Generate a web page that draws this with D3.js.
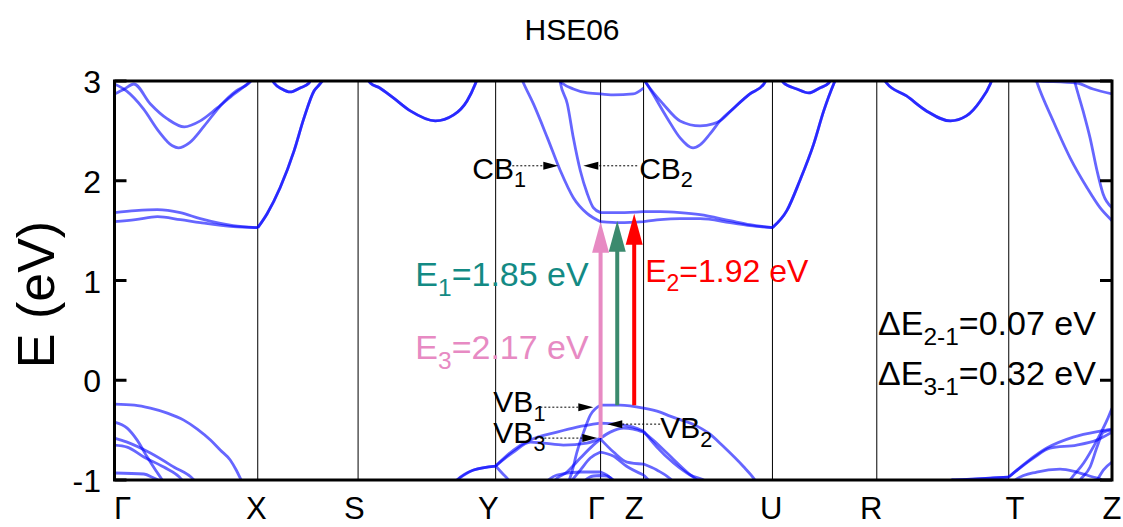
<!DOCTYPE html>
<html>
<head>
<meta charset="utf-8">
<script src="https://cdn.jsdelivr.net/npm/d3@7/dist/d3.min.js"></script>
<style>
  body { margin: 0; background: #fff; }
  text { font-family: "Liberation Sans", Arial, Helvetica, sans-serif; }
</style>
</head>
<body>
<svg id="chart" width="1123" height="527"></svg>
<script>
// ---- k-path (normalised path length) ----
const kLines = [0, 0.1436, 0.2442, 0.3821, 0.4873, 0.5304, 0.6596, 0.7642, 0.8965, 1.0];
const kLabels = ["Γ", "X", "S", "Y", "Γ", "Z", "U", "R", "T", "Z"];
const kLabelPos = [0.008, 0.1423, 0.2405, 0.3747, 0.483, 0.521, 0.6583, 0.7585, 0.9028, 1.0];
const eTicks = [-1, 0, 1, 2, 3];

// ---- bands: [k, E(eV)], null breaks a band where it leaves the window ----
const cb1 = [[0,1.59],[0.021,1.61],[0.043,1.64],[0.066,1.61],[0.086,1.58],[0.119,1.54],[0.1436,1.53],
  [0.153,1.67],[0.166,1.93],[0.180,2.30],[0.190,2.63],[0.200,2.90],[0.206,2.97],[0.212,3.05],[0.221,3.15],null,
  [0.405,3.10],[0.410,2.98],[0.420,2.77],[0.434,2.43],[0.447,2.10],[0.460,1.83],[0.474,1.67],[0.4873,1.59],
  [0.507,1.58],[0.5304,1.59],
  [0.547,1.61],[0.567,1.62],[0.587,1.62],[0.617,1.58],[0.637,1.55],[0.6596,1.53],
  [0.674,1.70],[0.687,2.00],[0.701,2.37],[0.711,2.70],[0.721,2.97],[0.727,3.10],null,
  [0.921,3.10],[0.925,2.98],[0.941,2.60],[0.958,2.23],[0.975,1.93],[0.988,1.73],[1.0,1.60]];
const cb2 = [[0,1.68],[0.021,1.70],[0.043,1.71],[0.066,1.68],[0.086,1.62],[0.119,1.55],[0.1436,1.53],
  [0.153,1.67],[0.166,1.93],[0.180,2.30],[0.190,2.63],[0.200,2.90],[0.206,2.97],[0.212,3.05],[0.221,3.15],null,
  [0.445,3.10],[0.447,2.98],[0.454,2.77],[0.460,2.43],[0.467,2.10],[0.474,1.87],[0.480,1.73],[0.4873,1.68],
  [0.507,1.68],[0.5304,1.69],
  [0.547,1.69],[0.567,1.68],[0.587,1.66],[0.617,1.60],[0.637,1.56],[0.6596,1.53],
  [0.674,1.70],[0.687,2.00],[0.701,2.37],[0.711,2.70],[0.721,2.97],[0.727,3.10],null,
  [0.960,3.10],[0.963,2.98],[0.971,2.70],[0.978,2.43],[0.985,2.10],[0.991,1.87],[1.0,1.73]];
const cb3 = [[0,2.97],[0.012,2.90],[0.029,2.72],[0.044,2.50],[0.058,2.35],[0.064,2.33],[0.075,2.38],
  [0.090,2.55],[0.106,2.75],[0.122,2.90],[0.135,2.98],[0.141,3.05],null,
  [0.5304,3.02],[0.5337,2.97],[0.554,2.63],[0.567,2.43],[0.580,2.33],[0.587,2.36],[0.597,2.47],
  [0.607,2.60],[0.621,2.73],[0.637,2.87],[0.651,2.97],[0.655,3.05]];
const cb4 = [[0,2.87],[0.010,2.92],[0.0194,2.97],[0.036,2.77],[0.053,2.62],[0.070,2.54],[0.086,2.60],
  [0.103,2.73],[0.120,2.87],[0.133,2.97],[0.141,3.05],null,
  [0.442,3.05],[0.4486,2.98],[0.460,2.92],[0.474,2.88],[0.4873,2.87],[0.500,2.86],[0.520,2.87],[0.5304,2.93]];
const cb5 = [[0.5304,3.02],[0.5337,2.97],[0.550,2.77],[0.567,2.60],[0.587,2.55],[0.600,2.57],[0.607,2.60],
  [0.621,2.73],[0.637,2.87],[0.651,2.97],[0.655,3.05]];
const cb6 = [[0.156,3.05],[0.160,2.98],[0.168,2.92],[0.176,2.89],[0.186,2.93],[0.195,2.98],[0.198,3.05],null,
  [0.2515,3.05],[0.2565,2.98],[0.266,2.93],[0.2796,2.83],[0.2966,2.70],[0.3216,2.60],[0.340,2.66],
  [0.3534,2.80],[0.3617,2.97],[0.3647,3.05],null,
  [0.6663,3.05],[0.671,2.98],[0.684,2.92],[0.696,2.88],[0.707,2.93],[0.716,2.98],[0.720,3.05],null,
  [0.770,3.05],[0.774,2.98],[0.794,2.85],[0.814,2.70],[0.838,2.60],[0.854,2.65],[0.868,2.80],
  [0.878,2.97],[0.881,3.05]];
const cb7 = cb6.map(p => p && [p[0], p[1]]);
const cb8 = [[0.8965,3.02],[0.928,3.00],[0.9646,2.98],[0.981,2.92],[1.0,2.87]];

const vb1 = [[0,-0.24],[0.020,-0.25],[0.036,-0.28],[0.053,-0.33],[0.0694,-0.40],[0.083,-0.49],[0.0962,-0.60],
  [0.106,-0.70],[0.116,-0.80],[0.122,-0.90],[0.127,-1.0],[0.131,-1.08],null,
  [0.452,-1.10],[0.4552,-1.02],[0.4586,-0.92],[0.4636,-0.72],[0.4703,-0.52],[0.477,-0.35],[0.4873,-0.25],
  [0.507,-0.25],[0.5304,-0.28],
  [0.547,-0.32],[0.557,-0.36],[0.584,-0.46],[0.597,-0.54],[0.610,-0.66],[0.630,-0.86],[0.642,-1.0],[0.647,-1.08],null,
  [0.953,-1.08],[0.958,-1.0],[0.9716,-0.83],[0.985,-0.60],[0.995,-0.40],[1.0,-0.28]];
const vb2 = [[0,-0.42],[0.0127,-0.48],[0.0227,-0.60],[0.0328,-0.77],[0.0411,-0.90],[0.0478,-1.0],[0.051,-1.06],null,
  [0.3367,-1.08],[0.3434,-1.0],[0.360,-0.90],[0.3821,-0.86],
  [0.400,-0.70],[0.4168,-0.60],[0.4436,-0.52],[0.4636,-0.47],[0.4873,-0.43],
  [0.5037,-0.44],[0.520,-0.47],[0.5304,-0.51],
  [0.5437,-0.67],[0.5604,-0.83],[0.577,-0.95],[0.594,-1.02],[0.599,-1.08],null,
  [0.8965,-0.97],[0.9145,-0.82],[0.9346,-0.68],[0.9612,-0.57],[0.988,-0.51],[1.0,-0.49]];
const vb3 = [[0,-0.58],[0.0127,-0.62],[0.036,-0.73],[0.0594,-0.87],[0.0795,-1.0],[0.084,-1.06],null,
  [0.3821,-0.86],[0.400,-0.72],[0.4168,-0.62],[0.430,-0.63],[0.450,-0.65],[0.4736,-0.63],[0.4873,-0.58],
  [0.497,-0.52],[0.5103,-0.48],[0.520,-0.49],[0.5304,-0.52],
  [0.540,-0.60],[0.5538,-0.73],[0.5739,-0.92],[0.5855,-1.02],[0.590,-1.08],null,
  [0.8965,-0.97],[0.9212,-0.78],[0.9379,-0.68],[0.9646,-0.65],[0.9846,-0.60],[1.0,-0.52]];
const vb4 = [[0,-0.65],[0.0127,-0.67],[0.0294,-0.77],[0.0494,-0.87],[0.0678,-1.0],[0.072,-1.06],null,
  [0.3317,-1.10],[0.3434,-1.0],[0.360,-0.90],[0.3821,-0.86],
  [0.3885,-0.93],[0.395,-1.0],[0.3988,-1.06],null,
  [0.9639,-1.06],[0.968,-1.0],[0.978,-0.87],[0.985,-0.67],[0.9913,-0.52],[1.0,-0.50]];
const vb5 = [[0,-0.93],[0.0294,-0.94],[0.0394,-0.98],[0.0494,-1.03],null,
  [0.4369,-1.08],[0.4402,-1.02],[0.4536,-0.92],[0.467,-0.78],[0.480,-0.65],[0.4873,-0.59],
  [0.5003,-0.72],[0.5137,-0.82],[0.5304,-0.84],
  [0.5437,-0.90],[0.5604,-1.02],[0.565,-1.08],null,
  [0.830,-1.06],[0.840,-1.0],[0.8644,-0.99],[0.881,-0.98],[0.8965,-0.97]];
const vb6 = [[0.450,-1.08],[0.457,-1.02],[0.467,-0.90],[0.477,-0.78],[0.4873,-0.72],
  [0.500,-0.76],[0.513,-0.86],[0.5304,-0.95],[0.5371,-1.02],[0.542,-1.08],null,
  [0.830,-1.06],[0.840,-1.0],[0.8644,-0.99],[0.881,-0.98],[0.8965,-0.97]];
const vb7 = [[0.4269,-1.08],[0.435,-1.0],[0.4436,-0.95],[0.467,-0.92],[0.4873,-0.92],[0.5003,-1.02],[0.503,-1.08],null,
  [0.900,-1.03],[0.9045,-0.99],[0.9245,-0.92],[0.9479,-0.89],[0.9646,-0.92],[0.981,-0.97],[0.988,-0.99],[0.992,-1.03]];
const vb8 = [[0.467,-1.06],[0.4703,-1.02],[0.480,-0.96],[0.4873,-0.955],[0.4937,-0.96],[0.502,-1.02],[0.505,-1.06],null,
  [0.980,-1.06],[0.985,-1.0],[0.9913,-0.90],[1.0,-0.82]];

// ---- optical transitions (from VB to CB, eV) ----
const transitionNames = ["E3", "E1", "E2"];
const transitionK = [0.4873, 0.504, 0.521];
const transitionFrom = [-0.58, -0.25, -0.25];
const transitionTo = [1.59, 1.60, 1.67];
const transitionColors = ["#e78ac3", "#3b8a6e", "#ff0000"];
const transitionTextColors = ["#e78ac3", "#138a84", "#ff0000"];
const gapDeltas = [["2-1", 0.07], ["3-1", 0.32]];

// ---- layout ----
const svg = d3.select("#chart");
const plot = { left: 114.5, right: 1112, top: 81, bottom: 480 };
const x = d3.scaleLinear().domain([0, 1]).range([plot.left, plot.right]);
const y = d3.scaleLinear().domain([-1, 3]).range([plot.bottom, plot.top]);

svg.append("defs").append("clipPath").attr("id", "clip")
  .append("rect").attr("x", plot.left).attr("y", plot.top)
  .attr("width", plot.right - plot.left).attr("height", plot.bottom - plot.top);

// title
svg.append("text").attr("x", 572).attr("y", 40).attr("text-anchor", "middle")
  .attr("font-size", 30).text("HSE06");

// y label
svg.append("text").attr("transform", `translate(54,${(plot.top + plot.bottom) / 2 + 14}) rotate(-90)`)
  .attr("text-anchor", "middle").attr("font-size", 52).text("E (eV)");

// high-symmetry lines
svg.append("g").selectAll("line").data(kLines.slice(1, -1)).join("line")
  .attr("x1", d => x(d)).attr("x2", d => x(d))
  .attr("y1", plot.top).attr("y2", plot.bottom)
  .attr("stroke", "#000").attr("stroke-width", 1);

// bands
const segs = d3.pairs(kLines);
const line = d3.line().defined(d => d !== null).x(d => x(d[0])).y(d => y(d[1])).curve(d3.curveMonotoneX);
function bandPath(band) {
  return segs.map(([a, b]) => {
    const pts = band.filter(p => p === null || (p[0] >= a - 1e-9 && p[0] <= b + 1e-9));
    return pts.filter(p => p).length > 1 ? line(pts) : "";
  }).join("");
}
const allBands = [cb1, cb2, cb3, cb4, cb5, cb6, cb7, cb8, vb1, vb2, vb3, vb4, vb5, vb6, vb7, vb8];
svg.append("g").attr("clip-path", "url(#clip)").selectAll("path").data(allBands).join("path")
  .attr("d", bandPath).attr("fill", "none")
  .attr("stroke", "#0000ff").attr("stroke-opacity", 0.6).attr("stroke-width", 2.8);

// transition arrows
const tg = svg.append("g");
transitionK.forEach((k, i) => {
  const xs = x(k), y0 = y(transitionFrom[i]), y1 = y(transitionTo[i]);
  const headL = 31, headW = 8.5;
  tg.append("line").attr("x1", xs).attr("x2", xs).attr("y1", y0).attr("y2", y1 + headL - 2)
    .attr("stroke", transitionColors[i]).attr("stroke-width", 4);
  tg.append("path").attr("d", `M${xs},${y1}L${xs - headW},${y1 + headL}L${xs + headW},${y1 + headL}Z`)
    .attr("fill", transitionColors[i]);
});

// text helper with subscript
function subText(g, xp, yp, main, sub, rest, size, color) {
  const t = g.append("text").attr("x", xp).attr("y", yp).attr("font-size", size).attr("fill", color);
  t.append("tspan").text(main);
  t.append("tspan").attr("font-size", size * 0.72).attr("dy", size * 0.28).text(sub);
  t.append("tspan").attr("dy", -size * 0.28).text(rest);
  return t;
}
const ann = svg.append("g");
const energy = (i) => (transitionTo[i] - transitionFrom[i]).toFixed(2);
subText(ann, x(0.3016), y(0.94), "E", "1", `=${energy(1)} eV`, 34, transitionTextColors[1]);
subText(ann, x(0.532), y(0.98), "E", "2", `=${energy(2)} eV`, 32, transitionTextColors[2]);
subText(ann, x(0.3016), y(0.21), "E", "3", `=${energy(0)} eV`, 34, transitionTextColors[0]);
subText(ann, x(0.7655), y(0.45), "ΔE", gapDeltas[0][0], `=${gapDeltas[0][1].toFixed(2)} eV`, 34, "#000");
subText(ann, x(0.7655), y(-0.05), "ΔE", gapDeltas[1][0], `=${gapDeltas[1][1].toFixed(2)} eV`, 34, "#000");

// band-edge pointers
const pointers = [
  { label: "CB", sub: "1", tx: 0.3587, ty: 2.02, from: 0.3988, to: 0.4449, e: 2.15 },
  { label: "CB", sub: "2", tx: 0.526, ty: 2.02, from: 0.524, to: 0.470, e: 2.15 },
  { label: "VB", sub: "1", tx: 0.3798, ty: -0.32, from: 0.4269, to: 0.480, e: -0.27 },
  { label: "VB", sub: "3", tx: 0.3798, ty: -0.63, from: 0.4269, to: 0.484, e: -0.58 },
  { label: "VB", sub: "2", tx: 0.547, ty: -0.58, from: 0.547, to: 0.494, e: -0.44 }
];
pointers.forEach(p => {
  subText(ann, x(p.tx), y(p.ty), p.label, p.sub, "", 30, "#000");
  const x0 = x(p.from), x1 = x(p.to), yy = y(p.e);
  const dir = Math.sign(x1 - x0), hl = 15, hw = 4;
  ann.append("line").attr("x1", x0).attr("x2", x1 - dir * hl).attr("y1", yy).attr("y2", yy)
    .attr("stroke", "#000").attr("stroke-width", 1).attr("stroke-dasharray", "2,2");
  ann.append("path").attr("d", `M${x1},${yy}L${x1 - dir * hl},${yy - hw}L${x1 - dir * hl},${yy + hw}Z`)
    .attr("fill", "#000");
});

// frame
svg.append("rect").attr("x", plot.left).attr("y", plot.top)
  .attr("width", plot.right - plot.left).attr("height", plot.bottom - plot.top)
  .attr("fill", "none").attr("stroke", "#000").attr("stroke-width", 3);

// y ticks (inward on both sides) and labels
const yt = svg.append("g");
yt.selectAll("line.l").data(eTicks).join("line").attr("class", "l")
  .attr("x1", plot.left).attr("x2", plot.left + 12).attr("y1", d => y(d)).attr("y2", d => y(d))
  .attr("stroke", "#000").attr("stroke-width", 3);
yt.selectAll("line.r").data(eTicks).join("line").attr("class", "r")
  .attr("x1", plot.right - 12).attr("x2", plot.right).attr("y1", d => y(d)).attr("y2", d => y(d))
  .attr("stroke", "#000").attr("stroke-width", 3);
yt.selectAll("text").data(eTicks).join("text")
  .attr("x", 101).attr("y", d => y(d) + 12).attr("text-anchor", "end")
  .attr("font-size", 32).text(d => d);

// k labels
svg.append("g").selectAll("text").data(kLabels).join("text")
  .attr("x", (d, i) => x(kLabelPos[i])).attr("y", 519).attr("text-anchor", "middle")
  .attr("font-size", 31).text(d => d);
</script>
</body>
</html>
